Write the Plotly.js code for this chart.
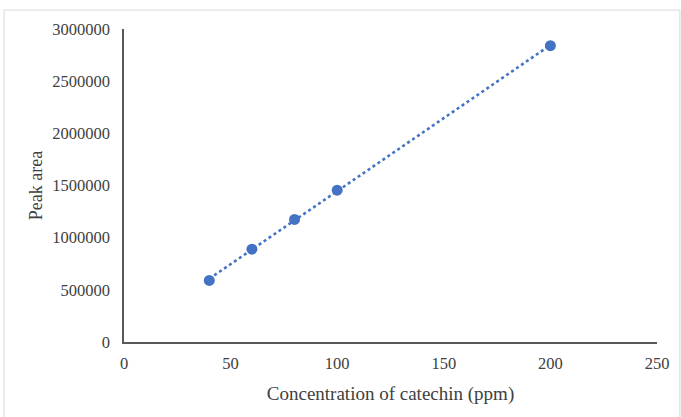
<!DOCTYPE html>
<html>
<head>
<meta charset="utf-8">
<script src="https://cdn.plot.ly/plotly-3.0.1.min.js"></script>
<style>
html,body{margin:0;padding:0;background:#fff;}
#chart{width:681px;height:417px;}
</style>
</head>
<body>
<div id="chart"></div>
<script>
// Data
const concentration = [40, 60, 80, 100, 200];          // ppm
const peakArea = [590000, 890000, 1175000, 1455000, 2840000];
const xTickValues = [0, 50, 100, 150, 200, 250];
const yTickValues = [0, 500000, 1000000, 1500000, 2000000, 2500000, 3000000];

// Linear trendline (least squares) over the data range, as in the spreadsheet chart
const n = concentration.length;
const mx = concentration.reduce((a, b) => a + b, 0) / n;
const my = peakArea.reduce((a, b) => a + b, 0) / n;
let sxy = 0, sxx = 0;
for (let i = 0; i < n; i++) {
  sxy += (concentration[i] - mx) * (peakArea[i] - my);
  sxx += (concentration[i] - mx) ** 2;
}
const slope = sxy / sxx;
const intercept = my - slope * mx;
const trendX = [Math.min(...concentration), Math.max(...concentration)];
const trendY = trendX.map(x => intercept + slope * x);

const blue = '#4472C4';
const axisColor = '#595959';
const font = 'Liberation Serif, Times New Roman, serif';

const traces = [
  {
    x: trendX, y: trendY, type: 'scatter', mode: 'lines',
    line: {color: blue, width: 2.6, dash: 'dot'},
    hoverinfo: 'skip', showlegend: false
  },
  {
    x: concentration, y: peakArea, type: 'scatter', mode: 'markers',
    marker: {color: blue, size: 11},
    showlegend: false
  }
];

const layout = {
  width: 681, height: 417,
  margin: {l: 124, r: 24, t: 29, b: 75},
  paper_bgcolor: '#ffffff', plot_bgcolor: '#ffffff',
  font: {family: font, color: '#404040', size: 16},
  showlegend: false,
  xaxis: {
    range: [0, 250], tickvals: xTickValues, ticktext: xTickValues.map(String),
    showgrid: false, zeroline: false,
    showline: true, linecolor: axisColor, linewidth: 1.6,
    ticks: 'outside', ticklen: 6, tickcolor: 'rgba(0,0,0,0)',
    tickfont: {family: font, size: 16.5, color: '#404040'},
    title: {text: 'Concentration of catechin (ppm)', font: {family: font, size: 19, color: '#404040'}, standoff: 14}
  },
  yaxis: {
    range: [0, 3000000], tickvals: yTickValues, ticktext: yTickValues.map(String),
    showgrid: false, zeroline: false,
    showline: true, linecolor: axisColor, linewidth: 1.6,
    ticks: 'outside', ticklen: 9, tickcolor: 'rgba(0,0,0,0)',
    tickfont: {family: font, size: 16.5, color: '#404040'},
    title: {text: 'Peak area', font: {family: font, size: 18, color: '#404040'}, standoff: 5}
  },
  shapes: [{
    type: 'rect', xref: 'paper', yref: 'paper',
    x0: -0.2251, x1: 1.043, y0: -0.27, y1: 1.0607,
    line: {color: '#d9d9d9', width: 1}, fillcolor: 'rgba(0,0,0,0)', layer: 'below'
  }]
};

Plotly.newPlot('chart', traces, layout, {displayModeBar: false, staticPlot: true});
</script>
</body>
</html>
